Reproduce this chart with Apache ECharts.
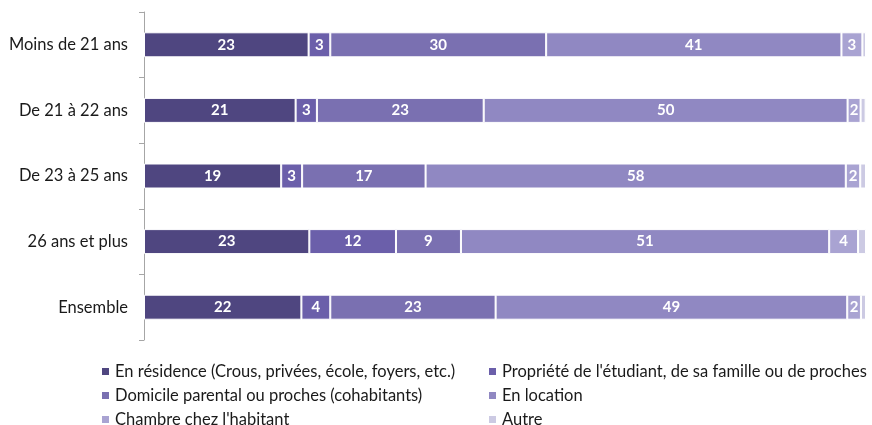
<!DOCTYPE html>
<html>
<head>
<meta charset="utf-8">
<script src="https://cdn.jsdelivr.net/npm/echarts@6/dist/echarts.min.js"></script>
<style>
  html, body { margin: 0; padding: 0; background: #fff; }
  #chart { width: 872px; height: 425px; }
</style>
</head>
<body>
<div id="chart"></div>
<script>
// tranches d'âge
const categories = ['Moins de 21 ans', 'De 21 à 22 ans', 'De 23 à 25 ans', '26 ans et plus', 'Ensemble'];

// parts en % (étiquettes arrondies)
const residence  = [22.8, 21.0, 19.0, 22.9, 21.8];
const propriete  = [3.0, 2.95, 2.9, 12.0, 4.0];
const domicile   = [29.9, 23.1, 17.1, 9.0, 22.9];
const enLocation = [40.9, 50.4, 58.2, 51.0, 48.7];
const chambre    = [2.9, 1.8, 2.0, 4.0, 1.9];
const autre      = [0.5, 0.7, 0.8, 1.1, 0.7];

const names = [
  'En résidence (Crous, privées, école, foyers, etc.)',
  "Propriété de l'étudiant, de sa famille ou de proches",
  'Domicile parental ou proches (cohabitants)',
  'En location',
  "Chambre chez l'habitant",
  'Autre'
];
const colors = ['#4F4680', '#6B5FAA', '#7A70B1', '#9088C2', '#A9A3D2', '#CCCAE3'];
const values = [residence, propriete, domicile, enLocation, chambre, autre];

const chart = echarts.init(document.getElementById('chart'));

const series = names.map((n, i) => ({
  name: n,
  type: 'bar',
  stack: 'total',
  barWidth: 25,
  data: values[i],
  itemStyle: { color: colors[i], borderColor: '#fff', borderWidth: 1 },
  label: {
    show: i < 5,
    position: 'inside',
    color: '#fff',
    fontWeight: 'bold',
    fontSize: 15,
    fontFamily: 'Lato',
    formatter: p => Math.round(p.value)
  },
  emphasis: { disabled: true }
}));

const legendText = { fontSize: 16.5, color: '#1a1a1a', fontFamily: 'Lato', lineHeight: 14 };

chart.setOption({
  animation: false,
  grid: { left: 144, right: 6, top: 12, bottom: 85 },
  xAxis: {
    type: 'value', min: 0, max: 100, show: false
  },
  yAxis: {
    type: 'category',
    data: categories,
    inverse: true,
    axisLine: { lineStyle: { color: '#a6a6a6', width: 1 } },
    axisTick: { show: true, length: 5, lineStyle: { color: '#a6a6a6' } },
    axisLabel: { fontSize: 16.5, color: '#1a1a1a', fontFamily: 'Lato', margin: 16 }
  },
  legend: [
    {
      orient: 'vertical', left: 95, top: 358, height: 90,
      data: [names[0], names[2], names[4]],
      icon: 'rect', itemWidth: 9, itemHeight: 9, itemGap: 7,
      textStyle: legendText, selectedMode: false
    },
    {
      orient: 'vertical', left: 482, top: 358, height: 90,
      data: [names[1], names[3], names[5]],
      icon: 'rect', itemWidth: 9, itemHeight: 9, itemGap: 7,
      textStyle: legendText, selectedMode: false
    }
  ],
  series: series
});
</script>
</body>
</html>
